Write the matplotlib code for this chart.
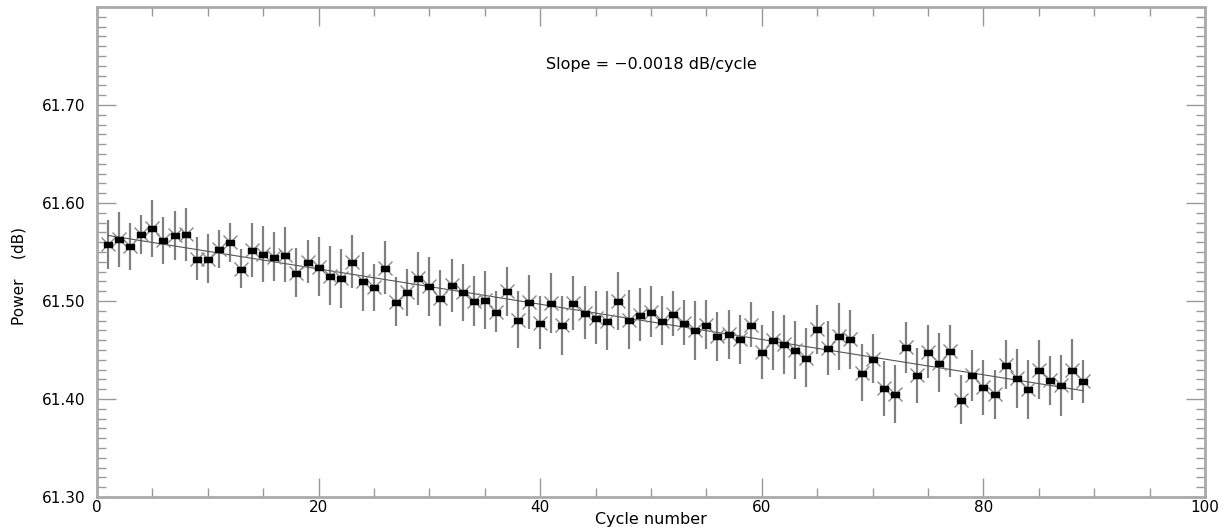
import numpy as np
import matplotlib
matplotlib.use('Agg')
import matplotlib.pyplot as plt
from matplotlib.ticker import MultipleLocator, FixedLocator, FormatStrFormatter

# cycle number 1..89
cycle = np.arange(1, 90)

power = [61.558, 61.563, 61.556, 61.568, 61.574, 61.562, 61.567, 61.568, 61.543, 61.543,
         61.553, 61.560, 61.533, 61.552, 61.548, 61.545, 61.547, 61.529, 61.540, 61.535,
         61.526, 61.523, 61.540, 61.520, 61.514, 61.534, 61.499, 61.509, 61.523, 61.515,
         61.503, 61.516, 61.509, 61.500, 61.501, 61.489, 61.510, 61.481, 61.499, 61.478,
         61.498, 61.475, 61.498, 61.488, 61.483, 61.480, 61.500, 61.481, 61.486, 61.489,
         61.480, 61.487, 61.478, 61.470, 61.476, 61.464, 61.466, 61.461, 61.476, 61.448,
         61.460, 61.456, 61.450, 61.442, 61.471, 61.452, 61.464, 61.461, 61.427, 61.441,
         61.411, 61.405, 61.453, 61.424, 61.448, 61.437, 61.449, 61.399, 61.424, 61.412,
         61.405, 61.435, 61.421, 61.410, 61.430, 61.419, 61.414, 61.430, 61.418]

err = [0.025, 0.028, 0.024, 0.020, 0.029, 0.024, 0.025, 0.027, 0.022, 0.025,
       0.019, 0.020, 0.020, 0.028, 0.029, 0.025, 0.028, 0.025, 0.022, 0.030,
       0.030, 0.030, 0.027, 0.030, 0.024, 0.027, 0.025, 0.024, 0.027, 0.030,
       0.029, 0.027, 0.029, 0.026, 0.030, 0.021, 0.025, 0.029, 0.028, 0.027,
       0.031, 0.030, 0.028, 0.027, 0.027, 0.030, 0.030, 0.030, 0.027, 0.026,
       0.025, 0.023, 0.023, 0.030, 0.025, 0.025, 0.025, 0.025, 0.023, 0.028,
       0.030, 0.030, 0.030, 0.030, 0.025, 0.028, 0.034, 0.030, 0.029, 0.025,
       0.028, 0.030, 0.026, 0.028, 0.027, 0.030, 0.027, 0.025, 0.026, 0.028,
       0.025, 0.025, 0.030, 0.030, 0.030, 0.025, 0.031, 0.031, 0.022]

slope = -0.0018
intercept = 61.5687

plt.rcParams['font.family'] = ['DejaVu Sans']

fig = plt.figure(figsize=(12.29, 5.29), dpi=100)
ax = fig.add_axes([0.0789, 0.0605, 0.9016, 0.9263])

ax.errorbar(cycle, power, yerr=err, fmt='none', ecolor='#808080', elinewidth=1.6, capsize=0, zorder=2)

fit_x = np.array([cycle[0], cycle[-1]])
ax.plot(fit_x, intercept + slope * fit_x, color='#555555', lw=0.8, zorder=3)

ax.plot(cycle, power, linestyle='none', marker='x', markersize=10, markeredgecolor='#8a8a8a',
        markeredgewidth=1.0, zorder=4)
rect = [(-1, -0.6), (1, -0.6), (1, 0.6), (-1, 0.6), (-1, -0.6)]
ax.plot(cycle, power, linestyle='none', marker=rect, markersize=6, color='black', zorder=5)

ax.text(50, 61.741, 'Slope = \u22120.0018 dB/cycle', ha='center', va='center', fontsize=11.5)

ax.set_xlim(0, 100)
ax.set_ylim(61.30, 61.80)
ax.xaxis.set_major_locator(MultipleLocator(20))
ax.xaxis.set_minor_locator(MultipleLocator(5))
ax.yaxis.set_major_locator(FixedLocator([61.30, 61.40, 61.50, 61.60, 61.70]))
ax.yaxis.set_minor_locator(MultipleLocator(0.01))
ax.yaxis.set_major_formatter(FormatStrFormatter('%.2f'))

ax.tick_params(which='both', direction='in', top=True, right=True, color='#999999', labelcolor='black',
               labelsize=11)
ax.tick_params(which='major', length=14, width=1)
ax.tick_params(which='minor', length=6.5, width=1)
ax.tick_params(axis='y', pad=8)
ax.tick_params(axis='x', pad=2)

for s in ax.spines.values():
    s.set_color('#aaaaaa')
    s.set_linewidth(2)

ax.set_xlabel('Cycle number', fontsize=11.5, labelpad=-2)
ax.set_ylabel('Power    (dB)', fontsize=11)
ax.yaxis.set_label_coords(-0.064, 0.45)

fig.savefig('out.png', dpi=100)
